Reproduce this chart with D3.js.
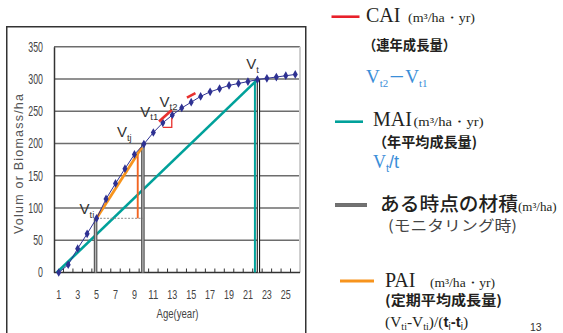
<!DOCTYPE html>
<html><head><meta charset="utf-8">
<script src="https://cdn.jsdelivr.net/npm/d3@7"></script>
<style>html,body{margin:0;padding:0;background:#fff;} svg{display:block}</style>
</head><body>
<svg id="chart" width="563" height="333"></svg>
<script>
// Stand volume (m3/ha) by stand age (years)
const ages   = [1, 2, 3, 4, 5, 6, 7, 8, 9, 10, 11, 12, 13, 14, 15, 16, 17, 18, 19, 20, 21, 22, 23, 24, 25, 26];
const volume = [0, 12, 37, 60, 84, 114, 138, 161, 183, 199, 217, 232, 244, 255, 264, 273, 280, 285, 290, 293, 296, 299, 301, 303, 305, 307];
const yTicks = [0, 50, 100, 150, 200, 250, 300, 350];
const xTickLabels = [1, 3, 5, 7, 9, 11, 13, 15, 17, 19, 21, 23, 25];
const tickBoundaries = [1.5, 2.5, 3.5, 4.5, 5.5, 6.5, 7.5, 8.5, 9.5, 10.5, 11.5, 12.5, 13.5, 14.5, 15.5, 16.5, 17.5, 18.5, 19.5, 20.5, 21.5, 22.5, 23.5, 24.5, 25.5];

// Ages that carry annotations
const monitorAges = [5, 10];      // monitoring inventories (ti, tj)
const currentAge = 22;            // t
const maiOriginAge = 0.8;         // MAI line starts at the origin of the volume axis
const caiAges = [12, 13];         // t1, t2
// red tangent dashes beside the CAI step (age, volume)
const caiDashes = [[[11.6, 234], [12.95, 252]], [[14.55, 271], [15.45, 278]]];
const pointLabels = [
  {age: 5,  sub: "ti", dx: -17, dy: -4},
  {age: 10, sub: "tj", dx: -27, dy: -7},
  {age: 12, sub: "t1", dx: -22.5, dy: -6},
  {age: 13, sub: "t2", dx: -12.7, dy: -8.5},
  {age: 22, sub: "t",  dx: -11.2, dy: -10.5}
];

const vol = a => volume[ages.indexOf(a)];
const svg = d3.select("#chart");

const x = d3.scaleLinear().domain([0.5, 26.5]).range([54, 300]);
const y = d3.scaleLinear().domain([0, 350]).range([272.5, 46.7]);

const NARROW = "'Liberation Sans Narrow','Liberation Sans',Arial,sans-serif";
const SANS = "'Liberation Sans',Arial,sans-serif";
const SERIF = "'Liberation Serif','Times New Roman',serif";
const CJK = "'Noto Sans CJK JP','Noto Sans CJK SC',sans-serif";

// outer frame
svg.append("rect").attr("x", 6.75).attr("y", 26.75).attr("width", 299).attr("height", 330)
  .attr("fill", "none").attr("stroke", "#333").attr("stroke-width", 1.5);

// horizontal grid
svg.append("g").selectAll("line").data(yTicks.filter(d => d > 0)).join("line")
  .attr("x1", x.range()[0]).attr("x2", x.range()[1])
  .attr("y1", d => y(d)).attr("y2", d => y(d))
  .attr("stroke", "#6d6d6d").attr("stroke-width", 1.4);
// right border of plot
svg.append("line").attr("x1", 300).attr("x2", 300).attr("y1", y(350)).attr("y2", y(0))
  .attr("stroke", "#cfcfcf").attr("stroke-width", 2);

// y axis labels
const yAxis = d3.axisLeft(y).tickValues(yTicks).tickSize(0).tickPadding(11);
const gy = svg.append("g").attr("transform", `translate(${x.range()[0]},0)`).call(yAxis);
gy.select(".domain").attr("stroke", "#333").attr("stroke-width", 1.5);
gy.selectAll("text").attr("font-family", NARROW).attr("font-size", 14).attr("fill", "#444")
  .attr("textLength", d => String(d).length * 4.9).attr("lengthAdjust", "spacingAndGlyphs");

// x axis line, small upward ticks, labels
svg.append("line").attr("x1", x.range()[0]).attr("x2", x.range()[1]).attr("y1", y(0)).attr("y2", y(0))
  .attr("stroke", "#333").attr("stroke-width", 1.5);
svg.append("g").selectAll("line").data(tickBoundaries).join("line")
  .attr("x1", d => x(d)).attr("x2", d => x(d)).attr("y1", y(0)).attr("y2", y(0) - 4)
  .attr("stroke", "#333").attr("stroke-width", 1);
svg.append("g").selectAll("text").data(xTickLabels).join("text")
  .attr("x", d => x(d)).attr("y", 298.5).attr("text-anchor", "middle")
  .attr("font-family", NARROW).attr("font-size", 13).attr("fill", "#444")
  .attr("textLength", d => String(d).length * 5).attr("lengthAdjust", "spacingAndGlyphs")
  .text(d => d);
svg.append("text").attr("x", 177.5).attr("y", 318).attr("text-anchor", "middle")
  .attr("font-family", NARROW).attr("font-size", 13).attr("fill", "#444")
  .attr("textLength", 42).attr("lengthAdjust", "spacingAndGlyphs").text("Age(year)");
svg.append("text").attr("transform", "translate(23,164) rotate(-90)").attr("text-anchor", "middle")
  .attr("font-family", NARROW).attr("font-size", 12.5).attr("fill", "#555")
  .attr("textLength", 140).attr("lengthAdjust", "spacing").text("Volum or Biomass/ha");

// MAI line from origin to Vt
const teal = "#00a19a";
svg.append("line").attr("x1", x(maiOriginAge)).attr("y1", y(0))
  .attr("x2", x(currentAge)).attr("y2", y(vol(currentAge)))
  .attr("stroke", teal).attr("stroke-width", 2.6);
svg.append("line").attr("x1", x(currentAge) - 2.5).attr("x2", x(currentAge) - 2.5)
  .attr("y1", y(0)).attr("y2", y(vol(currentAge)))
  .attr("stroke", teal).attr("stroke-width", 2);

// double bar helper
function doubleBar(g, cx, y1, y2, outer, inner, wo, wi) {
  g.append("line").attr("x1", cx).attr("x2", cx).attr("y1", y1).attr("y2", y2)
    .attr("stroke", outer).attr("stroke-width", wo);
  g.append("line").attr("x1", cx).attr("x2", cx).attr("y1", y1 + 1).attr("y2", y2)
    .attr("stroke", inner).attr("stroke-width", wi);
}
const bars = svg.append("g");
monitorAges.forEach(a => doubleBar(bars, x(a) - 1, y(vol(a)), y(0), "#555", "#b5b5b5", 3.6, 1.3));
doubleBar(bars, x(currentAge) + 1, y(vol(currentAge)), y(0), "#1a1a1a", "#fff", 3.4, 1.2);

// PAI triangle between ti and tj
const [ti, tj] = monitorAges;
const vi = vol(ti), vj = vol(tj);
const along = f => [ti + (tj - ti) * f, vi + (vj - vi) * f];
svg.append("line").attr("x1", x(ti)).attr("x2", x(tj) - 1).attr("y1", y(vi)).attr("y2", y(vi))
  .attr("stroke", "#8a8a8a").attr("stroke-width", 1).attr("stroke-dasharray", "2,1.5");
const pEnd = along(0.955), pDrop = along(0.87);
svg.append("line").attr("x1", x(pDrop[0])).attr("x2", x(pDrop[0]))
  .attr("y1", y(pDrop[1])).attr("y2", y(vi))
  .attr("stroke", "#f26522").attr("stroke-width", 1.9);
svg.append("line").attr("x1", x(ti)).attr("y1", y(vi)).attr("x2", x(pEnd[0])).attr("y2", y(pEnd[1]))
  .attr("stroke", "#f7941d").attr("stroke-width", 2.8);

// growth curve with markers
const navy = "#2e3192";
svg.append("path").datum(ages)
  .attr("d", d3.line().x(a => x(a)).y((a, i) => y(volume[i])))
  .attr("fill", "none").attr("stroke", navy).attr("stroke-width", 1);
svg.append("g").selectAll("path").data(ages).join("path")
  .attr("transform", (a, i) => `translate(${x(a)},${y(volume[i])})`)
  .attr("d", d3.symbol(d3.symbolDiamond, 22)).attr("fill", navy);

// CAI: step between t1 and t2 plus tangent dashes
const red = "#e8312f";
const [t1, t2] = caiAges;
svg.append("path")
  .attr("d", `M${x(t1)},${y(vol(t1)) + 4.5}H${x(t2) - 0.5}V${y(vol(t2)) + 3}`)
  .attr("fill", "none").attr("stroke", red).attr("stroke-width", 1.3);
svg.append("g").selectAll("line").data(caiDashes).join("line")
  .attr("x1", d => x(d[0][0])).attr("y1", d => y(d[0][1]))
  .attr("x2", d => x(d[1][0])).attr("y2", d => y(d[1][1]))
  .attr("stroke", red).attr("stroke-width", 2.6);

// point labels
pointLabels.forEach(p => {
  const t = svg.append("text").attr("x", x(p.age) + p.dx).attr("y", y(vol(p.age)) + p.dy)
    .attr("font-family", SANS).attr("fill", "#333");
  t.append("tspan").attr("font-size", 15).text("V");
  t.append("tspan").attr("font-size", 9.5).attr("dy", 3.5).text(p.sub);
});

// ---------- legend ----------
const ink = "#231f20", blue = "#3b8ed8";
function legendLine(x1, x2, yy, color, w) {
  svg.append("line").attr("x1", x1).attr("x2", x2).attr("y1", yy).attr("y2", yy)
    .attr("stroke", color).attr("stroke-width", w);
}
function txt(xx, yy, s, font, size, opts = {}) {
  const t = svg.append("text").attr("x", xx).attr("y", yy).attr("font-family", font)
    .attr("font-size", size).attr("fill", opts.fill || ink).text(s);
  if (opts.weight) t.attr("font-weight", opts.weight);
  if (opts.len) t.attr("textLength", opts.len).attr("lengthAdjust", "spacingAndGlyphs");
  return t;
}
function subText(xx, yy, parts, fill) {
  const t = svg.append("text").attr("x", xx).attr("y", yy).attr("fill", fill);
  parts.forEach(p => {
    const s = t.append("tspan").attr("font-family", p.font || SERIF).attr("font-size", p.size).text(p.s);
    if (p.dy) s.attr("dy", p.dy);
    if (p.weight) s.attr("font-weight", p.weight);
  });
  return t;
}

// CAI
legendLine(331.5, 359.5, 16.7, "#e8202a", 2.6);
txt(366, 22, "CAI", SERIF, 20);
txt(408, 22, "(m³/ha・yr)", SERIF, 13, {len: 67});
txt(363, 50, "（連年成長量）", CJK, 14, {weight: 700, len: 93});
subText(366, 83.3, [
  {s: "V", size: 19}, {s: "t2", size: 11, dy: 4}, {s: "－", size: 17, dy: -4, font: CJK},
  {s: "V", size: 19}, {s: "t1", size: 11, dy: 4}
], blue);

// MAI
legendLine(335, 363, 121.7, teal, 2.6);
txt(373, 126, "MAI", SERIF, 20);
txt(413.5, 126, "(m³/ha・yr)", SERIF, 13, {len: 70});
txt(373, 147, "（年平均成長量)", CJK, 14, {weight: 700, len: 104});
subText(373, 168, [
  {s: "V", size: 18}, {s: "t", size: 11, dy: 4, font: SANS}, {s: "/t", size: 18, dy: -4, font: SANS}
], blue);

// standing volume at a point in time
svg.append("line").attr("x1", 335).attr("x2", 367).attr("y1", 205).attr("y2", 205)
  .attr("stroke", "#4a4a4a").attr("stroke-width", 3.6);
svg.append("line").attr("x1", 335).attr("x2", 367).attr("y1", 205).attr("y2", 205)
  .attr("stroke", "#9a9a9a").attr("stroke-width", 1);
txt(380, 211, "ある時点の材積", CJK, 19, {weight: 500, len: 138});
txt(518, 211, "(m³/ha)", SERIF, 13);
txt(388, 231, "(モニタリング時)", CJK, 14.5, {fill: "#444", len: 129});

// PAI
legendLine(340, 374, 281, "#f7941d", 3);
txt(385, 287, "PAI", SERIF, 20);
txt(430, 287, "(m³/ha・yr)", SERIF, 13, {len: 65});
txt(385, 305, "(定期平均成長量)", CJK, 13.5, {weight: 700, len: 117});
subText(385, 327, [
  {s: "(V", size: 15.5}, {s: "ti", size: 10, dy: 3}, {s: "-V", size: 15.5, dy: -3},
  {s: "ti", size: 10, dy: 3}, {s: ")/", size: 15.5, dy: -3},
  {s: "(", size: 15.5}, {s: "t", size: 15, font: SANS, weight: 700},
  {s: "i", size: 10, dy: 3, font: SANS}, {s: "-", size: 15, dy: -3, font: SANS, weight: 700},
  {s: "t", size: 15, font: SANS, weight: 700}, {s: "i", size: 10, dy: 3, font: SANS},
  {s: ")", size: 15.5, dy: -3}
], ink);

txt(530, 330.5, "13", SANS, 10.5, {fill: "#333"});
</script>
</body></html>
